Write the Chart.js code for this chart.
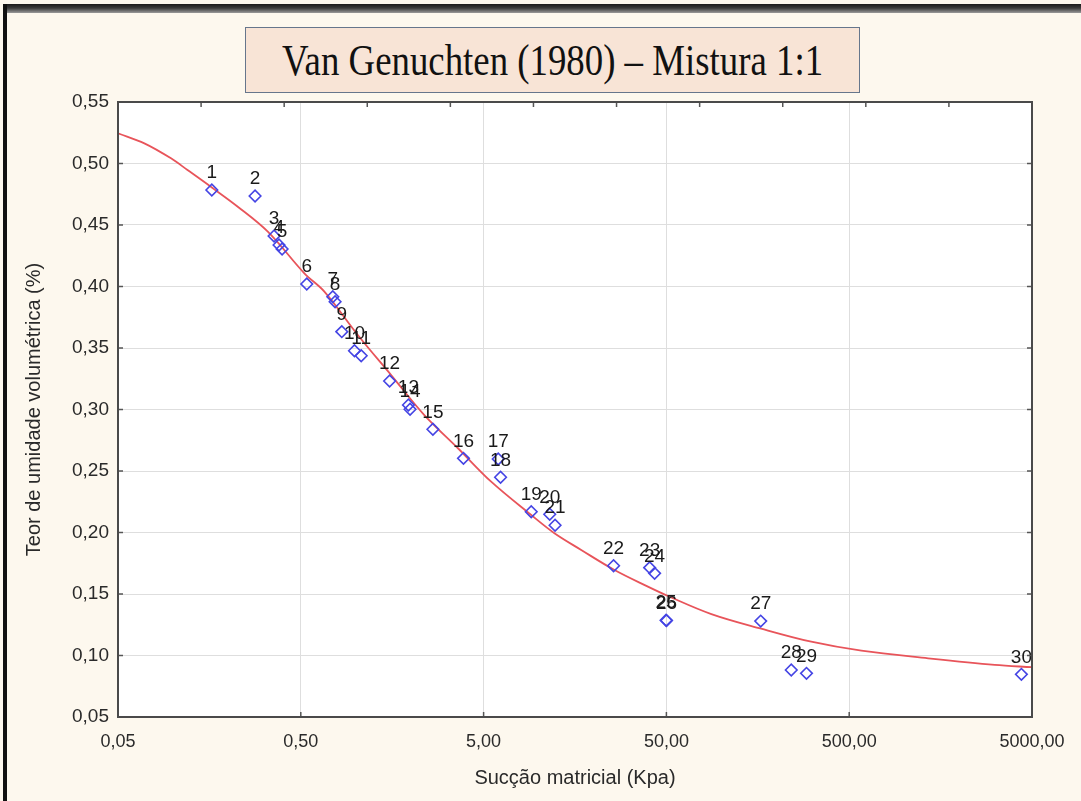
<!DOCTYPE html>
<html>
<head>
<meta charset="utf-8">
<script src="https://cdn.jsdelivr.net/npm/chart.js@4.4.1/dist/chart.umd.min.js"></script>
<style>
  html, body { margin:0; padding:0; background:#ffffff; }
  #wrap { position:absolute; left:0; top:0; width:1081px; height:801px; background:#fdf8ee; overflow:hidden; }
  #topbar { position:absolute; left:3px; top:4px; width:1078px; height:9px;
            background:linear-gradient(#1a1a1a, #3a3a3a 45%, #9a9a9a); }
  #leftbar { position:absolute; left:3px; top:4px; width:4px; height:797px; background:#111; }
  #titlebox { position:absolute; left:245px; top:27px; width:613px; height:64px;
              background:#f8e4d6; border:1px solid #66768c; box-sizing:content-box; }
  #titletext { position:absolute; left:0; top:0; width:100%; height:100%;
               display:flex; align-items:center; justify-content:center; }
  #titletext span { display:inline-block; font-family:"Liberation Serif", "DejaVu Serif", serif;
                    font-size:45px; color:#111; white-space:nowrap; transform-origin:center center; }
  canvas { position:absolute; left:0; top:0; }
</style>
</head>
<body>
<div id="wrap">
  <canvas id="c" width="1081" height="801"></canvas>
  <div id="topbar"></div>
  <div id="leftbar"></div>
  <div id="titlebox"><div id="titletext"><span id="tt">Van Genuchten (1980) – Mistura 1:1</span></div></div>
</div>
<script>
// ---- Data ----
const pointLabels = ["1","2","3","4","5","6","7","8","9","10","11","12","13","14","15","16","17","18","19","20","21","22","23","24","25","26","27","28","29","30"];
const suctionKpa = [0.163, 0.281, 0.357, 0.380, 0.395, 0.539, 0.748, 0.770, 0.838, 0.983, 1.07, 1.53, 1.94, 1.98, 2.64, 3.88, 6.01, 6.19, 9.11, 11.5, 12.3, 25.7, 40.5, 43.1, 49.8, 50.1, 164, 241, 292, 4375];
const moisture   = [0.4785, 0.4736, 0.4411, 0.4337, 0.4305, 0.4020, 0.3917, 0.3876, 0.3633, 0.3478, 0.3437, 0.3232, 0.3037, 0.3002, 0.2839, 0.2603, 0.2598, 0.2449, 0.2169, 0.2148, 0.2059, 0.1730, 0.1714, 0.1668, 0.1287, 0.1284, 0.1280, 0.0882, 0.0855, 0.0847];

const curveX = [0.05, 0.0697, 0.0975, 0.120, 0.161, 0.226, 0.330, 0.523, 0.673, 1.025, 1.56, 2.37, 3.62, 5.5, 9.11, 12.2, 17.1, 26.0, 39.6, 51, 88.1, 165, 310, 583, 1351, 3127, 5000];
const curveY = [0.5245, 0.5164, 0.5042, 0.4947, 0.4811, 0.4649, 0.4446, 0.4107, 0.3958, 0.3606, 0.3280, 0.2955, 0.2685, 0.2413, 0.2142, 0.1994, 0.1858, 0.1695, 0.1560, 0.1484, 0.1337, 0.1218, 0.1112, 0.1039, 0.0977, 0.0923, 0.0905];

const xTickValues = [0.05, 0.5, 5, 50, 500, 5000];
const xTickLabels = ["0,05", "0,50", "5,00", "50,00", "500,00", "5000,00"];
const yMin = 0.05, yMax = 0.55, yStep = 0.05;

// ---- title width fit ----
(function(){
  const s = document.getElementById('tt');
  const w = s.getBoundingClientRect().width;
  const target = 541;
  s.style.transform = 'scaleX(' + (target / w) + ')';
})();

const scatterPts = suctionKpa.map((x, i) => ({ x: x, y: moisture[i] }));
const curvePts = curveX.map((x, i) => ({ x: x, y: curveY[i] }));

const decoPlugin = {
  id: 'deco',
  beforeDraw(chart) {
    const { ctx, chartArea: a } = chart;
    ctx.save();
    ctx.fillStyle = '#ffffff';
    ctx.fillRect(a.left, a.top, a.right - a.left, a.bottom - a.top);
    ctx.restore();
  },
  afterDraw(chart) {
    const { ctx, chartArea: a, scales } = chart;
    ctx.save();
    ctx.strokeStyle = '#555';
    ctx.lineWidth = 1.5;
    const tl = 5;
    scales.y.ticks.forEach(t => {
      const py = scales.y.getPixelForValue(t.value);
      ctx.beginPath(); ctx.moveTo(a.left, py); ctx.lineTo(a.left + tl, py); ctx.stroke();
      ctx.beginPath(); ctx.moveTo(a.right, py); ctx.lineTo(a.right - tl, py); ctx.stroke();
    });
    scales.x.ticks.forEach(t => {
      const px = scales.x.getPixelForValue(t.value);
      ctx.beginPath(); ctx.moveTo(px, a.bottom); ctx.lineTo(px, a.bottom - tl); ctx.stroke();
    });
    const nTop = 11;
    for (let i = 1; i < nTop; i++) {
      const px = a.left + i * (a.right - a.left) / nTop;
      ctx.beginPath(); ctx.moveTo(px, a.top); ctx.lineTo(px, a.top + tl); ctx.stroke();
    }
    ctx.strokeStyle = '#4a4a4a';
    ctx.lineWidth = 2;
    ctx.strokeRect(a.left, a.top, a.right - a.left, a.bottom - a.top);
    ctx.restore();
  },
  afterDatasetsDraw(chart) {
    const { ctx, scales } = chart;
    ctx.save();
    ctx.font = '19px "Liberation Sans", Arial, sans-serif';
    ctx.fillStyle = '#1a1a1a';
    ctx.textAlign = 'center';
    ctx.textBaseline = 'middle';
    pointLabels.forEach((lbl, i) => {
      const px = scales.x.getPixelForValue(suctionKpa[i]);
      const py = scales.y.getPixelForValue(moisture[i]);
      ctx.fillText(lbl, px, py - 17);
    });
    ctx.restore();
  }
};

const tickFont = { family: '"Liberation Sans", Arial, sans-serif', size: 18 };

new Chart(document.getElementById('c'), {
  type: 'scatter',
  data: {
    datasets: [
      {
        type: 'line',
        data: curvePts,
        borderColor: '#e8545a',
        borderWidth: 1.8,
        pointRadius: 0,
        fill: false,
        tension: 0.35,
        order: 2
      },
      {
        data: scatterPts,
        pointStyle: 'rectRot',
        pointRadius: 5.8,
        borderColor: '#4444e4',
        backgroundColor: 'rgba(0,0,0,0)',
        borderWidth: 1.6,
        order: 1
      }
    ]
  },
  options: {
    responsive: false,
    animation: false,
    layout: { padding: { left: 0, right: 49, top: 102, bottom: 0 } },
    plugins: { legend: { display: false }, tooltip: { enabled: false }, title: { display: false } },
    scales: {
      x: {
        type: 'logarithmic',
        min: 0.05, max: 5000,
        afterBuildTicks: s => { s.ticks = xTickValues.map(v => ({ value: v })); },
        afterFit: s => { s.height = 84; },
        ticks: {
          autoSkip: false, maxRotation: 0, padding: 14,
          color: '#2a2a2a', font: tickFont,
          callback: (v, i) => xTickLabels[i]
        },
        grid: { color: '#dedede', lineWidth: 1, drawTicks: false },
        border: { display: false },
        title: { display: true, text: 'Sucção matricial (Kpa)', color: '#2a2a2a',
                 font: { family: '"Liberation Sans", Arial, sans-serif', size: 20 }, padding: { top: 4, bottom: 11 } }
      },
      y: {
        min: yMin, max: yMax,
        afterFit: s => { s.width = 118; },
        ticks: {
          stepSize: yStep, padding: 9,
          color: '#2a2a2a', font: { family: '"Liberation Sans", Arial, sans-serif', size: 19 },
          callback: v => Number(v).toFixed(2).replace('.', ',')
        },
        grid: { color: '#dedede', lineWidth: 1, drawTicks: false },
        border: { display: false },
        title: { display: true, text: 'Teor de umidade volumétrica (%)', color: '#2a2a2a',
                 font: { family: '"Liberation Sans", Arial, sans-serif', size: 20 }, padding: { top: 22, bottom: 0 } }
      }
    }
  },
  plugins: [decoPlugin]
});
</script>
</body>
</html>
